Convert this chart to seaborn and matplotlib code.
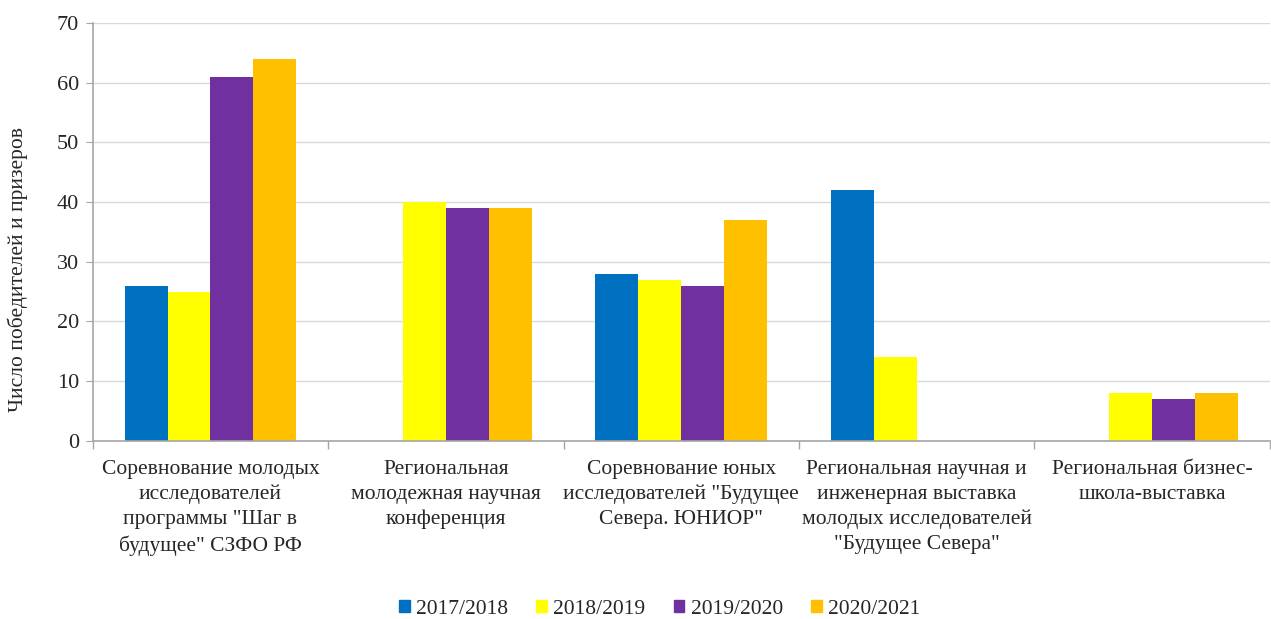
import pandas as pd
import numpy as np
import matplotlib.pyplot as plt
import seaborn as sns

# Data
categories = [
    'Соревнование молодых\nисследователей\nпрограммы "Шаг в\nбудущее" СЗФО РФ',
    'Региональная\nмолодежная научная\nконференция',
    'Соревнование юных\nисследователей "Будущее\nСевера. ЮНИОР"',
    'Региональная научная и\nинженерная выставка\nмолодых исследователей\n"Будущее Севера"',
    'Региональная бизнес-\nшкола-выставка',
]
years = ['2017/2018', '2018/2019', '2019/2020', '2020/2021']
v2017 = [26, 0, 28, 42, 0]
v2018 = [25, 40, 27, 14, 8]
v2019 = [61, 39, 26, 0, 7]
v2020 = [64, 39, 37, 0, 8]
colors = ['#0070C0', '#FFFF00', '#7030A0', '#FFC000']

df = pd.DataFrame({'Категория': categories * 4,
                   'Год': np.repeat(years, len(categories)),
                   'Число': v2017 + v2018 + v2019 + v2020})

sns.set_style('white')
plt.rcParams['font.family'] = ['Liberation Serif', 'DejaVu Serif']

fig, ax = plt.subplots(figsize=(12.71, 6.19), dpi=100)
sns.barplot(data=df, x='Категория', y='Число', hue='Год', hue_order=years,
            palette=colors, width=0.73, linewidth=0, saturation=1, ax=ax)

ax.set_ylim(0, 70)
ax.set_yticks(range(0, 71, 10))
ax.set_xlim(-0.5, len(categories) - 0.5)
ax.yaxis.grid(True, color='#D9D9D9', linewidth=1)
ax.set_axisbelow(True)
for s in ['top', 'right']:
    ax.spines[s].set_visible(False)
for s in ['left', 'bottom']:
    ax.spines[s].set_color('#A6A6A6')
    ax.spines[s].set_linewidth(1.2)

ax.set_xticks(range(len(categories)))
ax.set_xticklabels(categories, fontsize=15.5, linespacing=1.4)
ax.set_xticks(np.arange(-0.5, len(categories), 1), minor=True)
ax.tick_params(axis='x', which='major', bottom=False, length=0, pad=14)
ax.tick_params(axis='x', which='minor', bottom=True, length=6, color='#A6A6A6', width=1)
ax.tick_params(axis='y', left=True, length=5, color='#A6A6A6', labelsize=16, pad=5)

ax.set_xlabel('')
ax.set_ylabel('Число победителей и призеров', fontsize=15.5)
ax.yaxis.set_label_coords(-0.055, 0.41)

ax.get_legend().remove()
handles = [plt.Rectangle((0, 0), 1, 1, color=c) for c in colors]
fig.legend(handles, years, loc='center', bbox_to_anchor=(0.519, 0.016), ncol=4,
           frameon=False, fontsize=15.5, handlelength=0.5, handleheight=0.5,
           handletextpad=0.3, columnspacing=1.3)

plt.subplots_adjust(left=0.073, right=0.999, top=0.963, bottom=0.288)
plt.savefig('out.png', dpi=100)
